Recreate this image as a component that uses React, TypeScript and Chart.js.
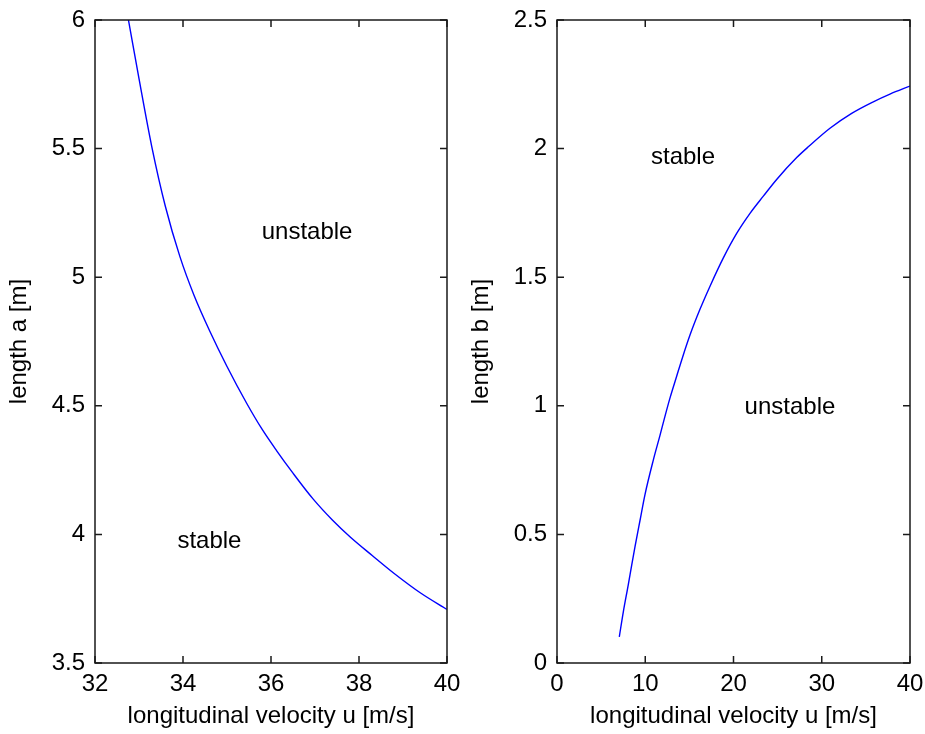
import React, { useEffect, useRef } from "react";
import { Chart, registerables } from "chart.js";

Chart.register(...registerables);

// ---- data ----
const leftU = [32.76, 33.0, 33.29, 33.6, 33.93, 34.25, 34.61, 35.0, 35.45, 35.8, 36.13, 36.5, 36.96, 37.4, 37.8, 38.3, 38.8, 39.4, 40.0];
const leftA = [6.0, 5.772, 5.508, 5.275, 5.08, 4.93, 4.79, 4.653, 4.509, 4.408, 4.325, 4.238, 4.137, 4.055, 3.99, 3.918, 3.848, 3.772, 3.708];

const rightU = [7.06, 7.52, 8.08, 8.46, 8.84, 9.41, 9.97, 10.92, 11.67, 12.24, 12.80, 13.56, 14.24, 15.07, 16.20, 17.34, 18.85, 20.36, 21.87, 23.38, 24.89, 27.16, 28.48, 30.93, 33.39, 35.84, 37.73, 40.0];
const rightB = [0.102, 0.20, 0.305, 0.38, 0.452, 0.555, 0.655, 0.79, 0.885, 0.96, 1.03, 1.115, 1.19, 1.275, 1.375, 1.465, 1.575, 1.67, 1.748, 1.815, 1.88, 1.965, 2.007, 2.079, 2.137, 2.182, 2.212, 2.243];

const leftXTicks = [32, 34, 36, 38, 40];
const leftYTicks = [3.5, 4, 4.5, 5, 5.5, 6];
const rightXTicks = [0, 10, 20, 30, 40];
const rightYTicks = [0, 0.5, 1, 1.5, 2, 2.5];

const leftNoteText = ["unstable", "stable"];
const leftNoteU = [36.82, 34.6];
const leftNoteV = [5.149, 3.947];
const rightNoteText = ["stable", "unstable"];
const rightNoteU = [14.28, 26.4];
const rightNoteV = [1.94, 0.968];

const xTitle = "longitudinal velocity u [m/s]";
const leftYTitle = "length a [m]";
const rightYTitle = "length b [m]";

const FONT = "'Liberation Sans', Arial, Helvetica, sans-serif";
const W = 925;
const H = 734;

Chart.defaults.font.family = FONT;
Chart.defaults.font.size = 24;
Chart.defaults.color = "#000";

const boxPlugin = {
  id: "matlabBox",
  afterDatasetsDraw(chart: any) {
    const { ctx, chartArea } = chart;
    const xs = chart.scales.x;
    const ys = chart.scales.y;
    const { left, right, top, bottom } = chartArea;
    const tl = 7;
    ctx.save();
    ctx.strokeStyle = "#1a1a1a";
    ctx.lineWidth = 1.5;
    ctx.beginPath();
    ctx.rect(left, top, right - left, bottom - top);
    ctx.stroke();
    ctx.beginPath();
    xs.ticks.forEach((t: any) => {
      const px = xs.getPixelForValue(t.value);
      ctx.moveTo(px, bottom);
      ctx.lineTo(px, bottom - tl);
      ctx.moveTo(px, top);
      ctx.lineTo(px, top + tl);
    });
    ys.ticks.forEach((t: any) => {
      const py = ys.getPixelForValue(t.value);
      ctx.moveTo(left, py);
      ctx.lineTo(left + tl, py);
      ctx.moveTo(right, py);
      ctx.lineTo(right - tl, py);
    });
    ctx.stroke();
    ctx.restore();
  },
};

const notesPlugin = {
  id: "notes",
  afterDraw(chart: any, _args: any, opts: any) {
    const { ctx } = chart;
    const xs = chart.scales.x;
    const ys = chart.scales.y;
    ctx.save();
    ctx.font = `24px ${FONT}`;
    ctx.fillStyle = "#000";
    ctx.textAlign = "center";
    ctx.textBaseline = "alphabetic";
    (opts.text || []).forEach((t: string, i: number) => {
      ctx.fillText(t, xs.getPixelForValue(opts.u[i]), ys.getPixelForValue(opts.v[i]));
    });
    ctx.restore();
  },
};

type PanelProps = {
  left: number;
  width: number;
  us: number[];
  vs: number[];
  xTicks: number[];
  yTicks: number[];
  yTitle: string;
  noteText: string[];
  noteU: number[];
  noteV: number[];
  yAxisWidth: number;
  rightPad: number;
};

function Panel(p: PanelProps) {
  const ref = useRef<HTMLCanvasElement>(null);
  useEffect(() => {
    if (!ref.current) return;
    const data = p.us.map((u, i) => ({ x: u, y: p.vs[i] }));
    const chart = new Chart(ref.current, {
      type: "scatter",
      data: {
        datasets: [
          {
            data,
            showLine: true,
            borderColor: "#0000ff",
            backgroundColor: "#0000ff",
            borderWidth: 1.4,
            pointRadius: 0,
            cubicInterpolationMode: "monotone",
          },
        ],
      },
      plugins: [boxPlugin, notesPlugin],
      options: {
        responsive: false,
        animation: false,
        devicePixelRatio: 1,
        layout: { padding: { left: 0, right: p.rightPad, top: 20, bottom: 0 } },
        plugins: {
          legend: { display: false },
          tooltip: { enabled: false },
          notes: { text: p.noteText, u: p.noteU, v: p.noteV },
        } as any,
        scales: {
          x: {
            type: "linear",
            min: p.xTicks[0],
            max: p.xTicks[p.xTicks.length - 1],
            grid: { display: false, drawTicks: false },
            border: { display: false },
            afterBuildTicks: (s: any) => {
              s.ticks = p.xTicks.map((v) => ({ value: v }));
            },
            afterFit: (s: any) => {
              s.height = 71;
              s.paddingLeft = 0;
              s.paddingRight = 0;
            },
            ticks: {
              padding: 7,
              maxRotation: 0,
              autoSkip: false,
              color: "#000",
              font: { size: 24, family: FONT },
              callback: (v: any) => String(v),
            },
            title: {
              display: true,
              text: xTitle,
              color: "#000",
              font: { size: 24, family: FONT },
              padding: { top: 0, bottom: 3 },
            },
          },
          y: {
            type: "linear",
            min: p.yTicks[0],
            max: p.yTicks[p.yTicks.length - 1],
            grid: { display: false, drawTicks: false },
            border: { display: false },
            afterBuildTicks: (s: any) => {
              s.ticks = p.yTicks.map((v) => ({ value: v }));
            },
            afterFit: (s: any) => {
              s.width = p.yAxisWidth;
              s.paddingTop = 0;
              s.paddingBottom = 0;
            },
            ticks: {
              padding: 10,
              autoSkip: false,
              color: "#000",
              font: { size: 24, family: FONT },
              callback: (v: any) => String(v),
            },
            title: {
              display: true,
              text: p.yTitle,
              color: "#000",
              font: { size: 24, family: FONT },
              padding: { top: 5, bottom: 0 },
            },
          },
        },
      } as any,
    });
    return () => chart.destroy();
  }, []);
  return (
    <canvas
      ref={ref}
      width={p.width}
      height={H}
      style={{ position: "absolute", left: p.left, top: 0, width: p.width, height: H }}
    />
  );
}

export default function App() {
  return (
    <div
      style={{
        position: "fixed",
        left: 0,
        top: 0,
        width: W,
        height: H,
        background: "#fff",
        overflow: "hidden",
      }}
    >
      <Panel
        left={0}
        width={462}
        us={leftU}
        vs={leftA}
        xTicks={leftXTicks}
        yTicks={leftYTicks}
        yTitle={leftYTitle}
        noteText={leftNoteText}
        noteU={leftNoteU}
        noteV={leftNoteV}
        yAxisWidth={95}
        rightPad={15}
      />
      <Panel
        left={462}
        width={463}
        us={rightU}
        vs={rightB}
        xTicks={rightXTicks}
        yTicks={rightYTicks}
        yTitle={rightYTitle}
        noteText={rightNoteText}
        noteU={rightNoteU}
        noteV={rightNoteV}
        yAxisWidth={95}
        rightPad={15}
      />
    </div>
  );
}
